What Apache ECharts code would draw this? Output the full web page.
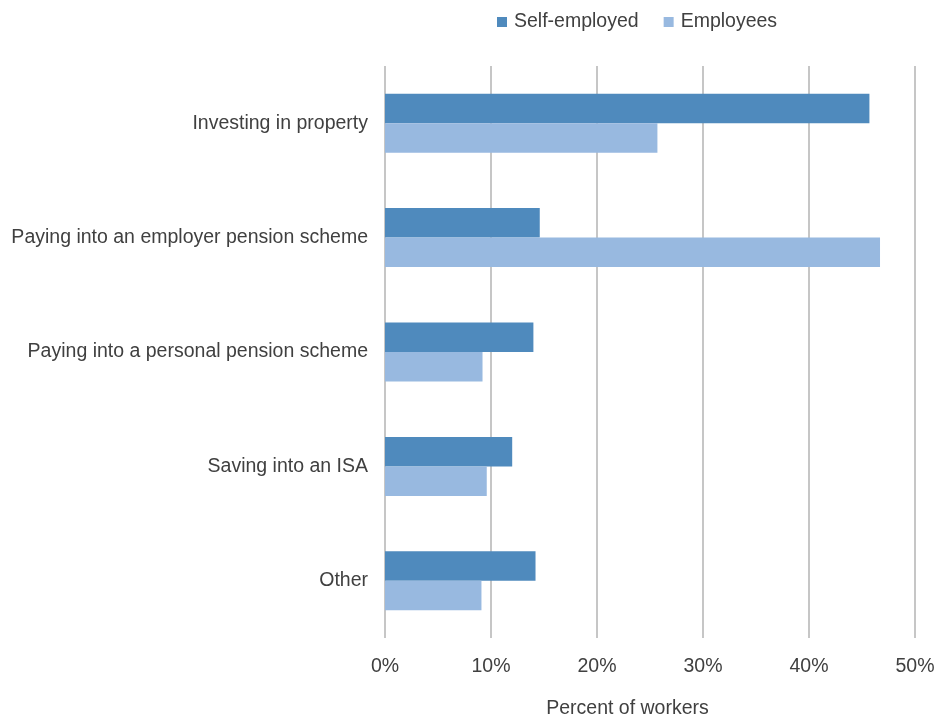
<!DOCTYPE html>
<html>
<head>
<meta charset="utf-8">
<script src="https://cdn.jsdelivr.net/npm/echarts@6/dist/echarts.min.js"></script>
<style>
  html, body { margin: 0; padding: 0; background: #ffffff; }
  #chart { width: 942px; height: 718px; }
</style>
</head>
<body>
<div id="chart"></div>
<script>
// Ways of saving for retirement, by employment type (% of workers)
const categories = [
  'Investing in property',
  'Paying into an employer pension scheme',
  'Paying into a personal pension scheme',
  'Saving into an ISA',
  'Other'
];
const selfEmployed = [45.7, 14.6, 14.0, 12.0, 14.2];
const employees = [25.7, 46.7, 9.2, 9.6, 9.1];
const xTicks = [0, 10, 20, 30, 40, 50];

const FONT = '"Liberation Sans", Arial, sans-serif';
const TEXT = '#404040';
const SIZE = 19.5;

const chart = echarts.init(document.getElementById('chart'), null, { renderer: 'canvas' });
chart.setOption({
  animation: false,
  textStyle: { fontFamily: FONT, color: TEXT },
  legend: {
    top: 12,
    left: 497,
    padding: 0,
    itemWidth: 10,
    itemHeight: 10,
    itemGap: 25,
    icon: 'rect',
    textStyle: { fontFamily: FONT, fontSize: SIZE, color: TEXT, padding: [0, 0, 0, 2] },
    data: ['Self-employed', 'Employees']
  },
  grid: {
    left: 385, right: 27, top: 66, bottom: 80,
    containLabel: false,
    outerBoundsMode: 'none'
  },
  xAxis: {
    type: 'value',
    min: xTicks[0],
    max: xTicks[xTicks.length - 1],
    interval: 10,
    name: 'Percent of workers',
    nameLocation: 'middle',
    nameGap: 61,
    nameTextStyle: { fontFamily: FONT, fontSize: SIZE, color: TEXT, padding: [0, 45, 0, 0] },
    axisLine: { show: false },
    axisTick: { show: false },
    axisLabel: {
      fontFamily: FONT, fontSize: SIZE, color: TEXT, margin: 19,
      formatter: v => v + '%'
    },
    splitLine: { show: true, lineStyle: { color: '#b3b3b3', width: 1.5 } }
  },
  yAxis: {
    type: 'category',
    inverse: true,
    data: categories,
    axisLine: { show: false },
    axisTick: { show: false },
    axisLabel: { fontFamily: FONT, fontSize: SIZE, color: TEXT, margin: 17 }
  },
  series: [
    {
      name: 'Self-employed',
      type: 'bar',
      data: selfEmployed,
      barWidth: 29.5,
      barGap: '0%',
      itemStyle: { color: '#4f8abd' }
    },
    {
      name: 'Employees',
      type: 'bar',
      data: employees,
      barWidth: 29.5,
      barGap: '0%',
      itemStyle: { color: '#98b9e0' }
    }
  ]
});
</script>
</body>
</html>
